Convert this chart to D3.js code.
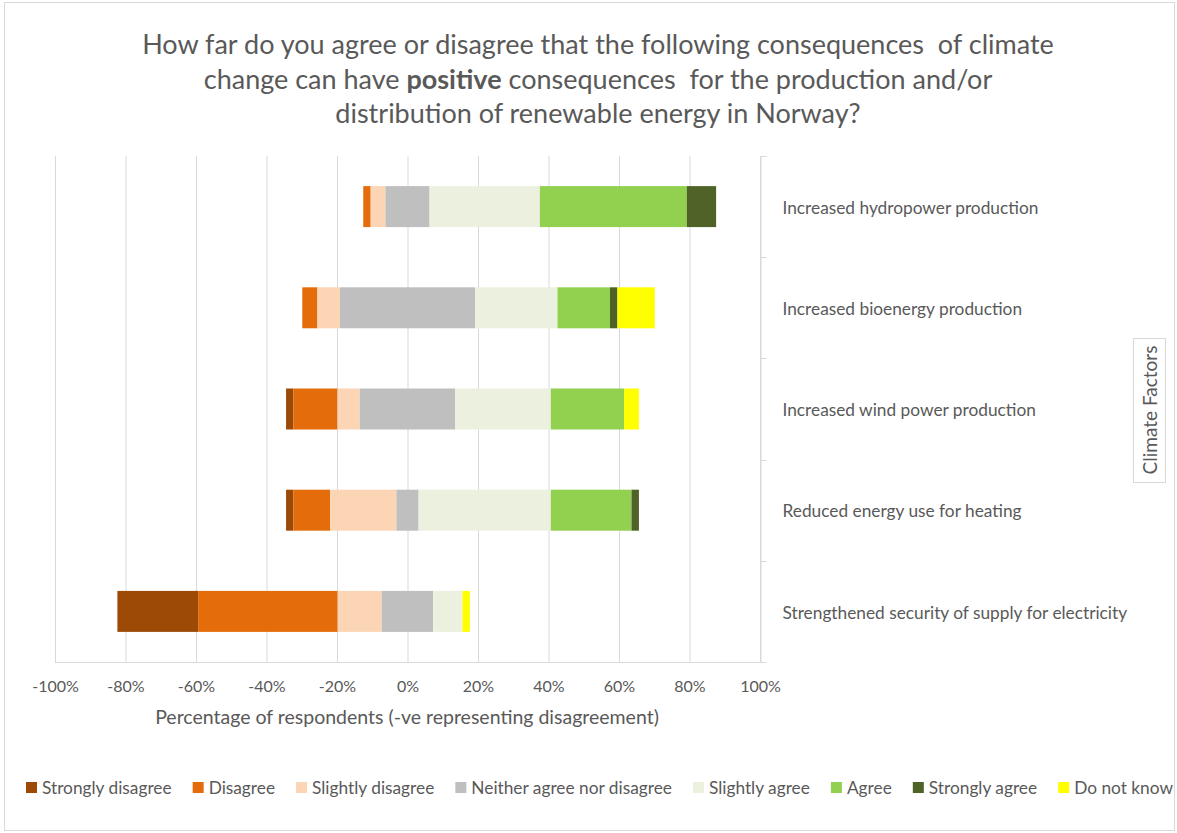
<!DOCTYPE html>
<html>
<head>
<meta charset="utf-8">
<script src="https://cdn.jsdelivr.net/npm/d3@7"></script>
<style>
  html, body { margin: 0; padding: 0; background: #fff; }
  svg text { font-family: "Lato", "Open Sans", sans-serif; fill: #595959; }
</style>
</head>
<body>
<svg id="chart" width="1177" height="833"></svg>
<script>
// ---------- data ----------
const categories = [
  "Increased hydropower production",
  "Increased bioenergy production",
  "Increased wind power production",
  "Reduced energy use for heating",
  "Strengthened security of supply for electricity"
];
const seriesNames = ["Strongly disagree", "Disagree", "Slightly disagree", "Neither agree nor disagree",
  "Slightly agree", "Agree", "Strongly agree", "Do not know"];
const stronglyDisagree = [0, 0, 2.1, 2.1, 22.9];
const disagree         = [2.1, 4.3, 12.5, 10.4, 39.6];
const slightlyDisagree = [4.2, 6.4, 6.3, 18.8, 12.5];
const neither          = [12.5, 38.3, 27.1, 6.3, 14.6];
const slightlyAgree    = [31.3, 23.4, 27.1, 37.5, 8.3];
const agree            = [41.7, 14.9, 20.8, 22.9, 0];
const stronglyAgree    = [8.3, 2.1, 0, 2.1, 0];
const doNotKnow        = [0, 10.6, 4.2, 0, 2.1];
const tickValues = [-100, -80, -60, -40, -20, 0, 20, 40, 60, 80, 100];
const colors = ["#9C4A06", "#E46C0A", "#FCD5B5", "#BFBFBF", "#EBF1DE", "#92D050", "#4F6228", "#FFFF00"];

const seriesValues = [stronglyDisagree, disagree, slightlyDisagree, neither,
  slightlyAgree, agree, stronglyAgree, doNotKnow];

// ---------- layout ----------
const svg = d3.select("#chart");
const plot = { left: 55, right: 760, top: 156, bottom: 662 };

svg.append("rect").attr("x", 4.5).attr("y", 2.5).attr("width", 1170).attr("height", 828)
  .attr("fill", "#fff").attr("stroke", "#d9d9d9");

const x = d3.scaleLinear().domain([-100, 100]).range([plot.left, plot.right]);
const y = d3.scaleBand().domain(categories).range([plot.top, plot.bottom]).paddingInner(0.595).paddingOuter(0.2975);

// title
const tLines = [
  [["How far do you agree or disagree that the following consequences  of climate", false]],
  [["change can have ", false], ["positive", true], [" consequences  for the production and/or", false]],
  [["distribution of renewable energy in Norway?", false]]
];
tLines.forEach((parts, i) => {
  const line = svg.append("text").attr("x", 598).attr("y", 54 + i * 34.5)
    .attr("text-anchor", "middle").style("font-size", "27px").style("white-space", "pre");
  parts.forEach(([t, b]) => line.append("tspan").text(t).style("font-weight", b ? "bold" : "normal"));
});

// gridlines
const grid = svg.append("g");
grid.selectAll("line").data(tickValues).join("line")
  .attr("x1", d => x(d) + 0.5).attr("x2", d => x(d) + 0.5)
  .attr("y1", plot.top).attr("y2", plot.bottom)
  .attr("stroke", "#d9d9d9").attr("stroke-width", 1);

// bottom axis line
svg.append("line").attr("x1", plot.left).attr("x2", plot.right + 1)
  .attr("y1", plot.bottom + 0.5).attr("y2", plot.bottom + 0.5).attr("stroke", "#d9d9d9");

// right category axis
const yAxis = d3.axisRight(y).tickSize(0).tickPadding(22).tickFormat(d => d);
const gy = svg.append("g").attr("transform", `translate(${plot.right + 0.5},0)`).call(yAxis);
gy.select(".domain").attr("stroke", "#d9d9d9");
gy.selectAll("text").style("font-size", "17.3px").attr("fill", "#595959").attr("dy", "0.42em");
const bounds = categories.map(c => y(c) - y.step() * y.paddingInner() / 2).concat([plot.bottom]);
gy.selectAll(".btick").data(bounds).join("line").attr("class", "btick")
  .attr("x1", 0).attr("x2", 6).attr("y1", d => Math.round(d) + 0.5).attr("y2", d => Math.round(d) + 0.5)
  .attr("stroke", "#d9d9d9");

// bottom axis labels
const xAxis = d3.axisBottom(x).tickValues(tickValues).tickSize(0).tickPadding(19)
  .tickFormat(d => d + "%");
const gx = svg.append("g").attr("transform", `translate(0,${plot.bottom})`).call(xAxis);
gx.select(".domain").remove();
gx.selectAll("text").style("font-size", "16px").attr("fill", "#595959");

// axis title
svg.append("text").attr("x", 407).attr("y", 724).attr("text-anchor", "middle")
  .style("font-size", "19.5px").text("Percentage of respondents (-ve representing disagreement)");

// right axis title box
svg.append("rect").attr("x", 1133.5).attr("y", 338.5).attr("width", 32).attr("height", 144)
  .attr("fill", "#fff").attr("stroke", "#d9d9d9");
svg.append("text").attr("transform", "translate(1156.5,410) rotate(-90)").attr("text-anchor", "middle")
  .style("font-size", "19px").text("Climate Factors");

// ---------- bars ----------
const segs = [];
categories.forEach((c, ci) => {
  let start = -(stronglyDisagree[ci] + disagree[ci] + slightlyDisagree[ci] + neither[ci] / 2);
  seriesValues.forEach((arr, si) => {
    const v = arr[ci];
    if (v > 0) segs.push({ c, si, x0: start, x1: start + v });
    start += v;
  });
});
svg.append("g").selectAll("rect").data(segs).join("rect")
  .attr("x", d => x(d.x0)).attr("width", d => x(d.x1) - x(d.x0))
  .attr("y", d => y(d.c)).attr("height", y.bandwidth())
  .attr("fill", d => colors[d.si]);

// ---------- legend ----------
const lg = svg.append("g");
const items = lg.selectAll("g").data(seriesNames).join("g");
items.append("rect").attr("width", 11).attr("height", 11).attr("y", -6).attr("fill", (d, i) => colors[i]);
items.append("text").attr("x", 16).attr("y", 0).attr("dy", "0.35em").style("font-size", "17.3px").text(d => d);
const widths = [];
items.each(function () { widths.push(16 + d3.select(this).select("text").node().getComputedTextLength()); });
const span = 1173 - 26;
const gap = (span - d3.sum(widths)) / (seriesNames.length - 1);
let cx = 26;
items.each(function (d, i) { d3.select(this).attr("transform", `translate(${cx},788)`); cx += widths[i] + gap; });
</script>
</body>
</html>
